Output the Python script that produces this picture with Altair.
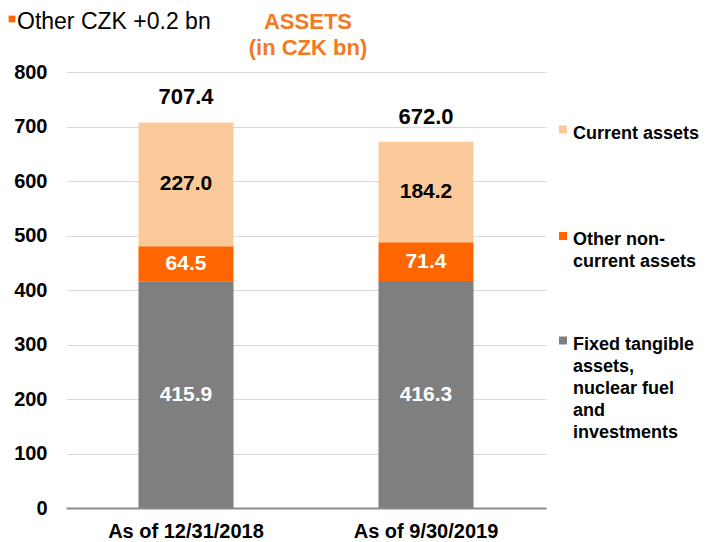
import json
import altair as alt
import pandas as pd

# ---- data ----
dates = ["As of 12/31/2018", "As of 9/30/2019"]
segments = ["Fixed tangible assets, nuclear fuel and investments",
            "Other non-current assets",
            "Current assets"]
fixed_vals = [415.9, 416.3]
other_vals = [64.5, 71.4]
current_vals = [227.0, 184.2]
totals = [707.4, 672.0]
legend_lines = [["Fixed tangible", "assets,", "nuclear fuel", "and", "investments"],
                ["Other non-", "current assets"],
                ["Current assets"]]
title_lines = ["ASSETS", "(in CZK bn)"]
note_text = ["Other CZK +0.2 bn"]
y_ticks = [0, 100, 200, 300, 400, 500, 600, 700, 800]

# ---- styles ----
colors = ["#7F7F7F", "#FF6600", "#FCCA9A"]
text_colors = ["white", "white", "black"]
legend_pos = [(492, 263.5), (492, 159), (492, 52.5)]
FONT = "Liberation Sans"
ORANGE = "#F47920"

rows = []
for vals, seg, order in [(fixed_vals, segments[0], 0), (other_vals, segments[1], 1), (current_vals, segments[2], 2)]:
    for d, v in zip(dates, vals):
        rows.append({"date": d, "segment": seg, "value": v, "order": order})
df = pd.DataFrame(rows)
tot_df = pd.DataFrame({"date": dates, "total": totals})
note_df = pd.DataFrame({"t": note_text})

x_enc = alt.X("date:N", sort=dates, title=None,
              scale=alt.Scale(paddingInner=0, paddingOuter=0),
              axis=alt.Axis(labelAngle=0, labelFont=FONT, labelFontSize=20, labelFontWeight="bold",
                            labelColor="black", ticks=False, domainColor="#8C8C8C", domainWidth=2,
                            labelPadding=13))
y_scale = alt.Scale(domain=[0, 800], nice=False)
y_axis = alt.Axis(values=y_ticks, labelFont=FONT, labelFontSize=20, labelFontWeight="bold",
                  labelColor="black", ticks=False, domain=False, gridColor="#D9D9D9",
                  gridWidth=1, labelPadding=19, title=None)

base = alt.Chart(df).transform_stack(
    stack="value", groupby=["date"], as_=["y0", "y1"], sort=[alt.SortField("order")]
).transform_calculate(mid="(datum.y0 + datum.y1) / 2")

layers = []
for i, seg in enumerate(segments):
    lx, ly = legend_pos[i]
    bar = base.transform_filter(alt.datum.segment == seg).mark_bar(size=95).encode(
        x=x_enc,
        y=alt.Y("y0:Q", scale=y_scale, axis=y_axis),
        y2="y1:Q",
        color=alt.Color("segment:N",
                        scale=alt.Scale(domain=[seg], range=[colors[i]]),
                        legend=alt.Legend(orient="none", legendX=lx, legendY=ly,
                                          title=legend_lines[i], titleOrient="right",
                                          titleAnchor="start", titleBaseline="top",
                                          titleFont=FONT, titleFontSize=18, titleFontWeight="bold",
                                          titleColor="black", titleLineHeight=22, titlePadding=5,
                                          titleLimit=400,
                                          padding=0, symbolType="square", symbolSize=64,
                                          symbolStrokeWidth=0, labelOffset=0, labelExpr="''")),
    )
    txt = base.transform_filter(alt.datum.segment == seg).mark_text(
        font=FONT, fontSize=21, fontWeight="bold", baseline="middle", color=text_colors[i]
    ).encode(
        x=alt.X("date:N", sort=dates),
        y=alt.Y("mid:Q", scale=y_scale),
        text=alt.Text("value:Q", format=".1f"),
    )
    layers += [bar, txt]

tot = alt.Chart(tot_df).mark_text(font=FONT, fontSize=22, fontWeight="bold",
                                  baseline="alphabetic", dy=-18, color="black").encode(
    x=alt.X("date:N", sort=dates),
    y=alt.Y("total:Q", scale=y_scale),
    text=alt.Text("total:Q", format=".1f"),
)

note = alt.Chart(note_df).mark_text(font=FONT, fontSize=23, align="left",
                                    baseline="alphabetic", color="black").encode(
    x=alt.value(-49), y=alt.value(-43), text="t:N")
note_sq = alt.Chart(note_df).mark_square(size=45, color="#FF6600", opacity=1).encode(
    x=alt.value(-54), y=alt.value(-53))

title_layers = []
for i, line in enumerate(title_lines):
    tdf = pd.DataFrame({"t": [line]})
    title_layers.append(alt.Chart(tdf).mark_text(
        font=FONT, fontSize=22, fontWeight="bold", align="center", baseline="alphabetic",
        color=ORANGE).encode(x=alt.value(242), y=alt.value(-43 + 26 * i), text="t:N"))

chart = alt.layer(*layers, tot, note, note_sq, *title_layers).resolve_scale(
    color="independent"
).resolve_legend(color="independent").properties(
    width=480, height=436,
    autosize=alt.AutoSizeParams(type="none"),
    padding={"left": 58, "top": 64, "right": 153, "bottom": 36},
).configure_view(stroke=None)

chart.save("out.html", embed_options={"renderer": "svg", "actions": False})
